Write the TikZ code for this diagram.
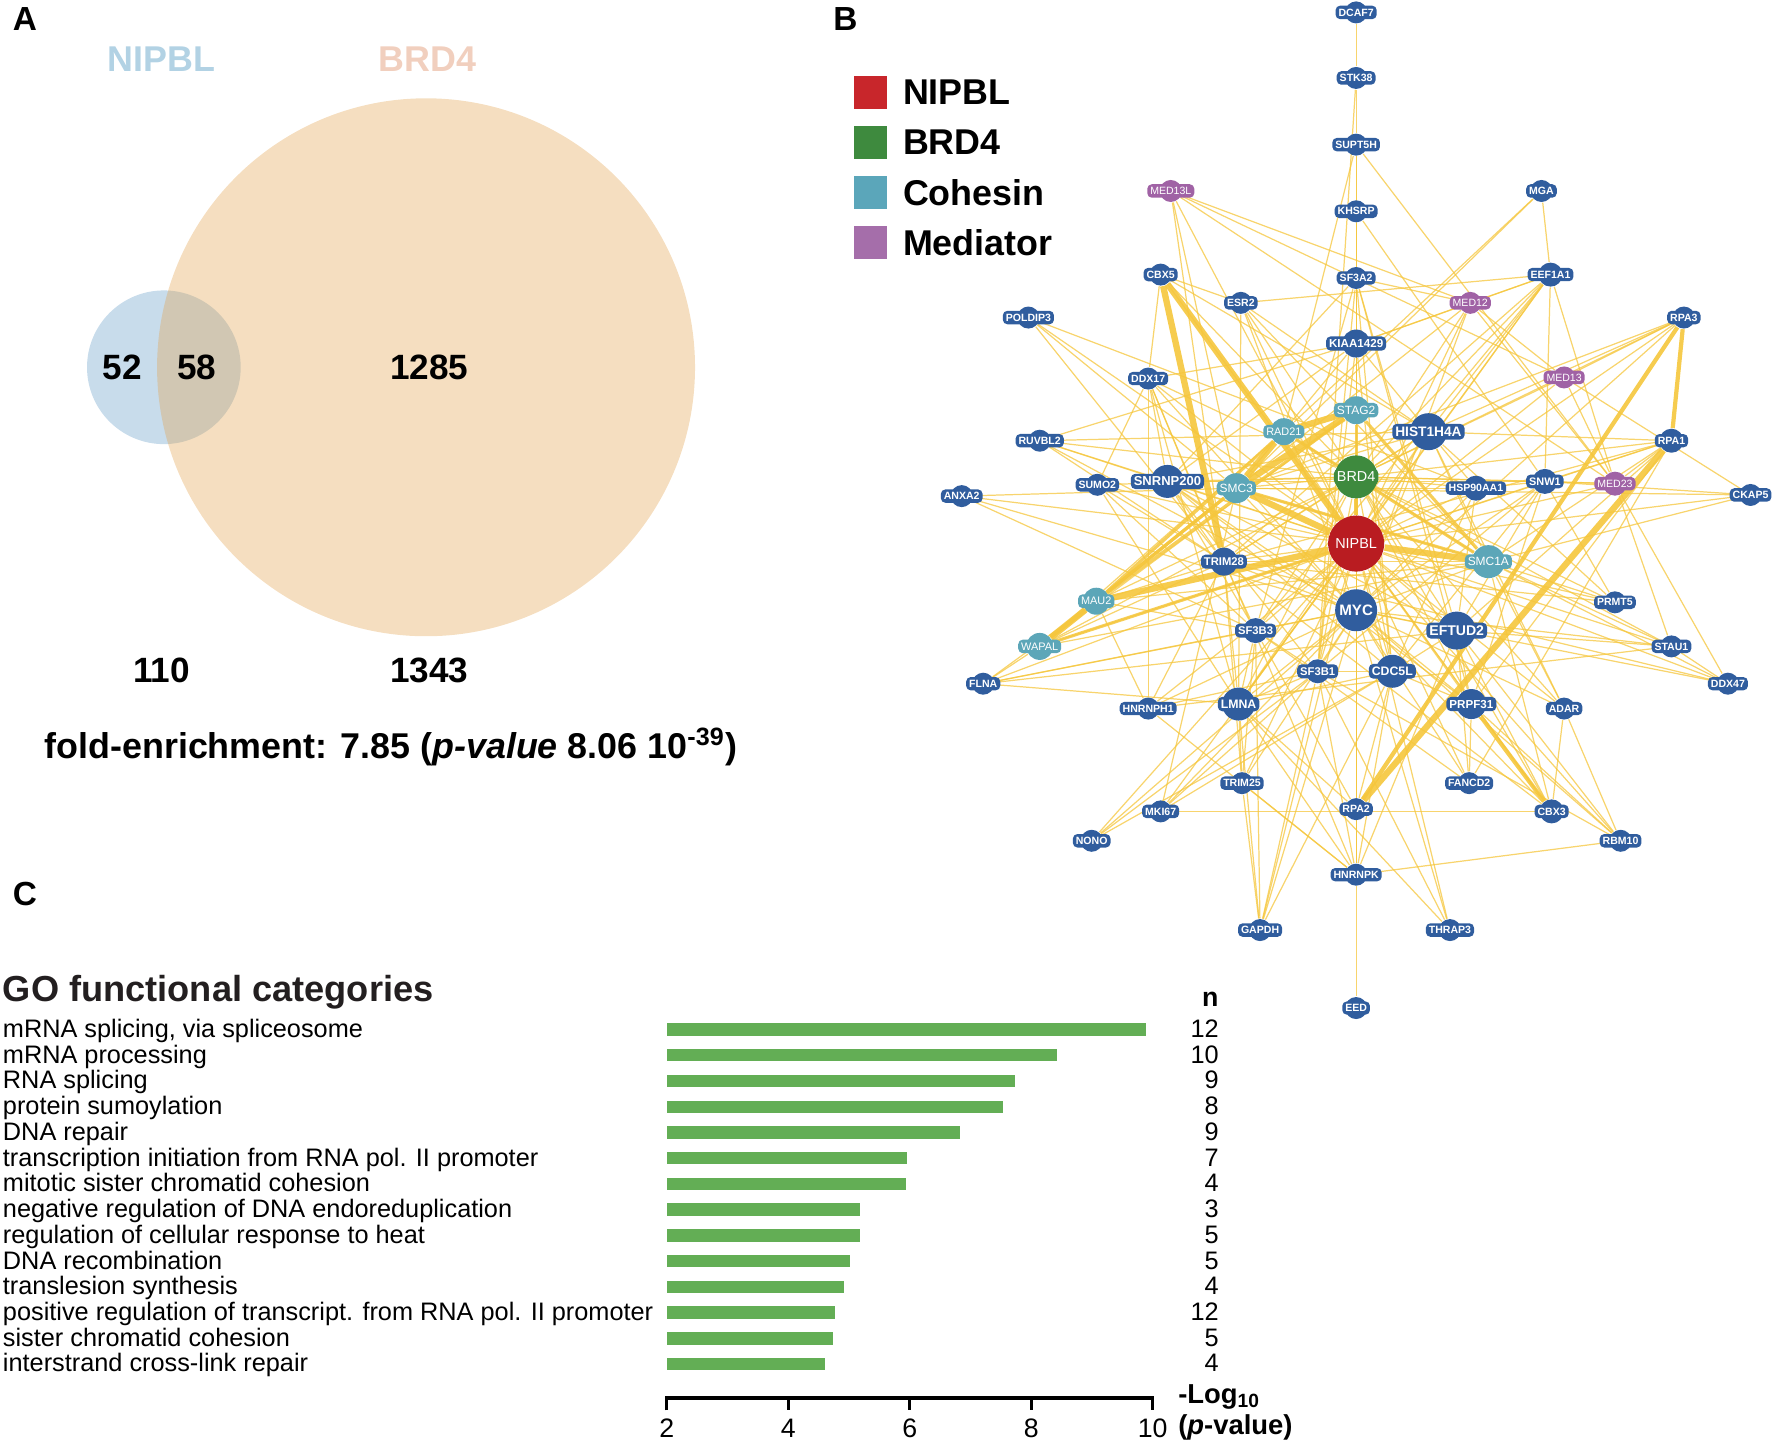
\documentclass[tikz,border=0pt]{standalone}
\usepackage{fontspec}
\setmainfont{Liberation Sans}
\usetikzlibrary{positioning,backgrounds}
\definecolor{protblue}{RGB}{48,93,158}
\definecolor{cohteal}{RGB}{92,166,184}
\definecolor{medpurple}{RGB}{160,98,165}
\definecolor{brdgreen}{RGB}{62,138,62}
\definecolor{nipred}{RGB}{185,28,33}
\definecolor{keyred}{RGB}{200,38,43}
\definecolor{keyteal}{RGB}{91,166,186}
\definecolor{keypurple}{RGB}{165,110,170}
\definecolor{linkyellow}{RGB}{245,198,60}
\definecolor{barGreen}{RGB}{99,174,85}
\definecolor{vennblue}{RGB}{200,220,235}
\definecolor{vennorange}{RGB}{226,161,75}
\definecolor{setblue}{RGB}{178,210,228}
\definecolor{setpink}{RGB}{241,207,190}
\definecolor{titlegrey}{RGB}{35,31,32}
\tikzset{prot/.style={circle,inner sep=0pt,minimum size=2.2mm},
	tag/.style={rounded corners=0.45mm,inner sep=0.3mm,text=white},
	link/.style={draw=linkyellow,line width=0.35pt,opacity=0.75},
	mid link/.style={draw=linkyellow,line width=0.9pt,opacity=0.85},
	heavy link/.style={draw=linkyellow,line width=1.8pt,opacity=0.9},
	key box/.style={minimum size=3.3mm,inner sep=0pt},
	key text/.style={font=\bfseries\fontsize{10.2}{12}\selectfont,inner sep=0pt},
	venn num/.style={font=\bfseries\fontsize{10}{12}\selectfont},
	go label/.style={anchor=base west,font=\fontsize{7.2}{8}\selectfont,inner sep=0pt},
	go count/.style={anchor=base east,font=\fontsize{7.2}{8}\selectfont,inner sep=0pt},
	go bar/.style={fill=barGreen,draw=none},
	panel/.style={font=\bfseries\fontsize{9.5}{11}\selectfont},
}
% \gene[weight]{name}{position}{circle size}{colour}{label size}
\newcommand{\gene}[6][\bfseries]{%
	\node[prot,fill=#5,minimum size=#4] (#2) at (#3) {};
	\node[tag,fill=#5,font=#1\fontsize{#6}{#6}\selectfont] (#2t) at (#2) {#2};
}

\begin{document}
\begin{tikzpicture}[x=0.11301mm,y=-0.11301mm]
	\useasboundingbox (0,0) rectangle (1568,1277);
	
	% panel letters
	\node[panel] (pA) at (22,17) {A};
	\node[panel] (pB) at (748,17) {B};
	\node[panel] (pC) at (22,791) {C};
	
	% A: venn diagram
	\fill[vennblue] (145,325) circle (68);
	\fill[vennorange,opacity=0.35] (377,325) circle (238);
	\node[font=\bfseries\fontsize{10.2}{12}\selectfont,text=setblue] (nipblset) at (143,52) {NIPBL};
	\node[font=\bfseries\fontsize{10.2}{12}\selectfont,text=setpink] (brdset) at (378,52) {BRD4};
	\node[venn num] (only1) at (108,325) {52};
	\node[venn num] (both) at (174,325) {58};
	\node[venn num] (only2) at (380,325) {1285};
	\node[venn num] (tot1) at (143,593) {110};
	\node[venn num] (tot2) at (380,593) {1343};
	\node[venn num,font=\bfseries\fontsize{10.2}{12}\selectfont] (fold) at (346,661)
		{fold-enrichment: 7.85 (\textit{p-value} 8.06 10\textsuperscript{-39})};
	
	% B: legend
	\node[key box,fill=keyred] (kNIPBL) at (770,82) {};
	\node[key box,fill=brdgreen] (kBRD4) [below=1.55mm of kNIPBL] {};
	\node[key box,fill=keyteal] (kCohesin) [below=1.55mm of kBRD4] {};
	\node[key box,fill=keypurple] (kMediator) [below=1.55mm of kCohesin] {};
	\node[key text] (tNIPBL) [right=1.5mm of kNIPBL] {NIPBL};
	\node[key text] (tBRD4) [right=1.5mm of kBRD4] {BRD4};
	\node[key text] (tCohesin) [right=1.5mm of kCohesin] {Cohesin};
	\node[key text] (tMediator) [right=1.5mm of kMediator] {Mediator};
	
	% B: proteins
	\gene{DCAF7}{1200,11}{2.2mm}{protblue}{3}
	\gene{STK38}{1200,69}{2.2mm}{protblue}{3}
	\gene{SUPT5H}{1200,128}{2.2mm}{protblue}{3}
	\gene{KHSRP}{1200,187}{2.2mm}{protblue}{3}
	\gene{SF3A2}{1200,246}{2.2mm}{protblue}{3}
	\gene{KIAA1429}{1200,304}{2.8mm}{protblue}{3.3}
	\gene[\mdseries]{STAG2}{1200,363}{2.8mm}{cohteal}{3.4}
	\gene[\mdseries]{BRD4}{1200,422}{4.3mm}{brdgreen}{4.1}
	\gene[\mdseries]{NIPBL}{1200,481}{5.6mm}{nipred}{4.1}
	\gene{MYC}{1200,540}{4.2mm}{protblue}{4.3}
	\gene{RPA2}{1200,716}{2.2mm}{protblue}{3}
	\gene{HNRNPK}{1200,774}{2.2mm}{protblue}{3}
	\gene{EED}{1200,892}{2.2mm}{protblue}{3}
	\gene[\mdseries]{MED13L}{1036,169}{2.2mm}{medpurple}{3}
	\gene{CBX5}{1027,243}{2.2mm}{protblue}{3}
	\gene{POLDIP3}{910,281}{2.2mm}{protblue}{3}
	\gene{DDX17}{1016,335}{2.2mm}{protblue}{3}
	\gene{RUVBL2}{920,390}{2.2mm}{protblue}{3}
	\gene{ANXA2}{851,439}{2.2mm}{protblue}{3}
	\gene{SUMO2}{971,429}{2.2mm}{protblue}{3}
	\gene{SNRNP200}{1033,426}{3.3mm}{protblue}{3.7}
	\gene[\mdseries]{SMC3}{1094,432}{3mm}{cohteal}{3.4}
	\gene[\mdseries]{RAD21}{1136,382}{2.7mm}{cohteal}{3.1}
	\gene{ESR2}{1098,268}{2.2mm}{protblue}{3}
	\gene[\mdseries]{MED12}{1301,268}{2.2mm}{medpurple}{3}
	\gene{MGA}{1364,169}{2.2mm}{protblue}{3}
	\gene{EEF1A1}{1372,243}{2.4mm}{protblue}{3}
	\gene{RPA3}{1490,281}{2.2mm}{protblue}{3}
	\gene[\mdseries]{MED13}{1384,334}{2.2mm}{medpurple}{3}
	\gene{RPA1}{1479,390}{2.4mm}{protblue}{3}
	\gene{CKAP5}{1549,438}{2.2mm}{protblue}{3}
	\gene[\mdseries]{MED23}{1429,428}{2.4mm}{medpurple}{3}
	\gene{SNW1}{1367,426}{2.5mm}{protblue}{3.1}
	\gene{HSP90AA1}{1306,432}{2.5mm}{protblue}{3}
	\gene{HIST1H4A}{1264,382}{3.7mm}{protblue}{3.9}
	\gene[\mdseries]{SMC1A}{1317,497}{3.3mm}{cohteal}{3.4}
	\gene{TRIM28}{1083,497}{2.8mm}{protblue}{3.2}
	\gene[\mdseries]{MAU2}{970,532}{2.7mm}{cohteal}{3.1}
	\gene[\mdseries]{WAPAL}{920,572}{2.7mm}{cohteal}{3.1}
	\gene{FLNA}{870,605}{2.2mm}{protblue}{3}
	\gene{SF3B3}{1111,558}{2.5mm}{protblue}{3.2}
	\gene{EFTUD2}{1289,558}{3.8mm}{protblue}{4}
	\gene{PRMT5}{1429,533}{2.2mm}{protblue}{3}
	\gene{STAU1}{1479,572}{2.2mm}{protblue}{3}
	\gene{DDX47}{1529,605}{2.2mm}{protblue}{3}
	\gene{SF3B1}{1166,594}{2.4mm}{protblue}{3.2}
	\gene{CDC5L}{1232,594}{3.3mm}{protblue}{3.5}
	\gene{HNRNPH1}{1016,627}{2.2mm}{protblue}{3}
	\gene{LMNA}{1096,623}{3.3mm}{protblue}{3.5}
	\gene{PRPF31}{1302,623}{3mm}{protblue}{3.3}
	\gene{ADAR}{1384,627}{2.2mm}{protblue}{3}
	\gene{TRIM25}{1099,693}{2.2mm}{protblue}{3}
	\gene{FANCD2}{1300,693}{2.2mm}{protblue}{3}
	\gene{MKI67}{1027,718}{2.2mm}{protblue}{3}
	\gene{CBX3}{1373,718}{2.4mm}{protblue}{3}
	\gene{NONO}{966,744}{2.2mm}{protblue}{3}
	\gene{RBM10}{1434,744}{2.2mm}{protblue}{3}
	\gene{GAPDH}{1115,823}{2.2mm}{protblue}{3}
	\gene{THRAP3}{1283,823}{2.2mm}{protblue}{3}
	
	\begin{scope}[on background layer]
		% hubs
		\path[link] (NIPBL) edge (MYC) edge (KIAA1429) edge (SF3A2) edge (KHSRP) edge (SUPT5H)
			edge (HIST1H4A) edge (HSP90AA1) edge (SNW1) edge (MED23) edge (MED12) edge (MED13)
			edge (MED13L) edge (ESR2) edge (DDX17) edge (SUMO2) edge (SNRNP200) edge (RUVBL2)
			edge (ANXA2) edge (POLDIP3) edge (EEF1A1) edge (RPA1) edge (RPA3) edge (CKAP5)
			edge (PRMT5) edge (STAU1) edge (DDX47) edge (ADAR) edge (CBX3) edge (RBM10)
			edge (FANCD2) edge (PRPF31) edge (EFTUD2) edge (CDC5L) edge (SF3B1) edge (SF3B3)
			edge (LMNA) edge (TRIM25) edge (HNRNPH1) edge (MKI67) edge (NONO) edge (FLNA)
			edge (GAPDH) edge (THRAP3) edge (RPA2) edge (HNRNPK) edge (TRIM28) edge (RAD21)
			edge (WAPAL) edge (STAG2);
		\path[link] (BRD4) edge (MYC) edge (KIAA1429) edge (SF3A2) edge (HIST1H4A) edge (SNRNP200)
			edge (EFTUD2) edge (CDC5L) edge (LMNA) edge (PRPF31) edge (TRIM28) edge (SMC3)
			edge (STAG2) edge (RAD21) edge (SMC1A) edge (CBX5) edge (CBX3) edge (RPA1) edge (RPA2)
			edge (RPA3) edge (MED12) edge (MED23) edge (SNW1) edge (HSP90AA1) edge (ESR2)
			edge (DDX17) edge (SF3B1) edge (SF3B3) edge (MAU2) edge (WAPAL) edge (PRMT5)
			edge (STAU1) edge (ADAR) edge (EEF1A1) edge (MED13) edge (RUVBL2) edge (SUMO2);
		\path[link] (MYC) edge (HIST1H4A) edge (HSP90AA1) edge (SNW1) edge (EFTUD2) edge (CDC5L)
			edge (SF3B1) edge (SF3B3) edge (LMNA) edge (PRPF31) edge (TRIM28) edge (SNRNP200)
			edge (RPA2) edge (HNRNPK) edge (GAPDH) edge (NONO) edge (MKI67) edge (FLNA)
			edge (ANXA2) edge (RUVBL2) edge (DDX17) edge (ESR2) edge (MED12) edge (RPA3)
			edge (STAU1) edge (ADAR) edge (CBX3) edge (TRIM25) edge (HNRNPH1) edge (SMC3)
			edge (SMC1A) edge (KIAA1429) edge (DDX47) edge (FANCD2) edge (RBM10) edge (THRAP3);
		
		% top column and outer ring
		\path[link]
			(DCAF7) edge (STK38)
			(STK38) edge (SUPT5H) edge (SF3B1)
			(SUPT5H) edge (KHSRP) edge (RAD21) edge (MED23)
			(KHSRP) edge (SF3A2) edge (SNW1)
			(SF3A2) edge (KIAA1429) edge (SF3B1) edge (SF3B3) edge (SNRNP200) edge (EFTUD2)
				edge (CDC5L) edge (PRPF31) edge (MED12)
			(KIAA1429) edge (HIST1H4A) edge (SNRNP200) edge (RUVBL2) edge (DDX17) edge (MED12)
				edge (EEF1A1) edge (STAG2) edge (SMC3) edge (CDC5L) edge (SF3B1)
			(MED13L) edge (MED12) edge (MED13) edge (MED23) edge (SMC3) edge (TRIM28)
			(CBX5) edge (DDX17) edge (HIST1H4A) edge (CBX3) edge (ESR2)
			(POLDIP3) edge (HSP90AA1) edge (SMC3) edge (TRIM28)
			(DDX17) edge (SUMO2) edge (SNRNP200) edge (LMNA) edge (HNRNPH1) edge (HNRNPK) edge (TRIM28)
			(RUVBL2) edge (SNRNP200) edge (TRIM28) edge (HIST1H4A)
			(ANXA2) edge (SMC3) edge (SF3B3)
			(SUMO2) edge (TRIM28) edge (LMNA) edge (SF3B3)
			(ESR2) edge (EEF1A1) edge (LMNA) edge (HIST1H4A) edge (SMC1A)
			(MED12) edge (MED13) edge (MED23) edge (SMC3) edge (EEF1A1)
			(MGA) edge (EEF1A1) edge (SMC3) edge (RAD21)
			(EEF1A1) edge (SNW1) edge (HIST1H4A) edge (TRIM28) edge (SF3B3) edge (MED23) edge (LMNA)
			(RPA3) edge (MED13) edge (SMC3) edge (HIST1H4A)
			(RPA1) edge (SNW1) edge (HIST1H4A) edge (MED23) edge (SMC1A) edge (FANCD2)
				edge (EFTUD2) edge (PRPF31) edge (TRIM28)
			(CKAP5) edge (MED13) edge (SNW1) edge (SMC1A) edge (SMC3)
			(MED23) edge (MED13) edge (SNW1)
			(HSP90AA1) edge (HIST1H4A) edge (SNW1) edge (SMC3) edge (CDC5L) edge (EFTUD2)
			(HIST1H4A) edge (SMC3) edge (TRIM28) edge (SMC1A) edge (PRMT5) edge (SNRNP200) edge (LMNA)
			(SNW1) edge (CDC5L) edge (EFTUD2) edge (SNRNP200) edge (PRPF31) edge (SF3B1)
			(SMC1A) edge (PRMT5) edge (STAU1) edge (DDX47) edge (CBX3) edge (TRIM28) edge (WAPAL) edge (SMC3)
			(PRMT5) edge (SNW1) edge (TRIM28)
			(STAU1) edge (DDX47) edge (MED23) edge (HNRNPH1) edge (EFTUD2)
			(DDX47) edge (TRIM28) edge (MED23)
			(ADAR) edge (CBX3) edge (RBM10) edge (SMC1A) edge (HIST1H4A)
			(CBX3) edge (MKI67) edge (TRIM28) edge (EFTUD2)
			(RBM10) edge (HNRNPK) edge (PRPF31) edge (SF3B1) edge (EFTUD2)
			(FANCD2) edge (PRPF31) edge (EFTUD2) edge (SF3B3)
			(THRAP3) edge (SF3B1) edge (LMNA)
			(GAPDH) edge (LMNA) edge (TRIM25) edge (SF3B1) edge (CDC5L) edge (SF3B3)
			(HNRNPK) edge (EED) edge (RPA2) edge (HNRNPH1) edge (TRIM25) edge (LMNA) edge (CDC5L)
				edge (SF3B1) edge (EFTUD2)
			(RPA2) edge (LMNA) edge (SF3B3) edge (CDC5L)
			(TRIM25) edge (LMNA) edge (SF3B3) edge (TRIM28)
			(MKI67) edge (SMC3) edge (SF3B1) edge (CDC5L)
			(NONO) edge (SF3B1) edge (CDC5L)
			(HNRNPH1) edge (MAU2) edge (TRIM28) edge (SF3B1)
			(FLNA) edge (WAPAL) edge (SF3B3) edge (LMNA) edge (MAU2) edge (EFTUD2)
			(WAPAL) edge (STAG2) edge (RAD21) edge (TRIM28)
			(MAU2) edge (TRIM28) edge (SF3B3) edge (SMC1A)
			(SNRNP200) edge (EFTUD2) edge (PRPF31) edge (CDC5L) edge (SF3B1) edge (SF3B3) edge (TRIM28)
			(EFTUD2) edge (PRPF31) edge (CDC5L)
			(SF3B1) edge (SF3B3) edge (CDC5L)
			(LMNA) edge (SF3B3) edge (TRIM28) edge (SF3B1) edge (CDC5L)
			(PRPF31) edge (CDC5L)
			(SF3B3) edge (TRIM28);
		
		% heavier links
		\path[mid link]
			(NIPBL) edge (STAG2) edge (WAPAL)
			(SMC3) edge (SMC1A)
			(MAU2) edge (SMC3) edge (RAD21) edge (STAG2)
			(WAPAL) edge (SMC3)
			(STAG2) edge (SMC1A)
			(RAD21) edge (SMC1A);
		\path[heavy link]
			(SMC3) edge (NIPBL) edge (STAG2) edge (RAD21)
			(RAD21) edge (STAG2)
			(MAU2) edge (NIPBL) edge (WAPAL)
			(SMC1A) edge (NIPBL)
			(CBX5) edge (TRIM28) edge (NIPBL)
			(RPA1) edge (RPA2);
		\path[heavy link,line width=1.2pt]
			(RPA3) edge (RPA1) edge (RPA2)
			(PRPF31) edge (CBX3)
			(BRD4) edge (NIPBL);
	\end{scope}
	
	% C: GO categories
	\node[anchor=west,inner sep=0pt,text=titlegrey,font=\bfseries\fontsize{10.3}{12}\selectfont] (gotitle) at (2,878) {GO functional categories};
	\node[font=\bfseries\fontsize{7.6}{9}\selectfont] (ncol) at (1071,884) {n};
	\foreach \lab/\val/\cnt [count=\i] in {
		{mRNA splicing, via spliceosome}/9.89/12,
		{mRNA processing}/8.42/10,
		{RNA splicing}/7.73/9,
		{protein sumoylation}/7.54/8,
		{DNA repair}/6.82/9,
		{transcription initiation from RNA pol. II promoter}/5.96/7,
		{mitotic sister chromatid cohesion}/5.94/4,
		{negative regulation of DNA endoreduplication}/5.18/3,
		{regulation of cellular response to heat}/5.18/5,
		{DNA recombination}/5.01/5,
		{translesion synthesis}/4.92/4,
		{positive regulation of transcript. from RNA pol. II promoter}/4.77/12,
		{sister chromatid cohesion}/4.73/5,
		{interstrand cross-link repair}/4.60/4}
	{
		\pgfmathsetmacro{\rowy}{911+(\i-1)*22.77}
		\node[go label] (go\i) at (2,\rowy+7) {\lab};
		\fill[go bar] (590,\rowy-5.5) rectangle ({590+(\val-2)*53.75},\rowy+5.5);
		\node[go count] (cnt\i) at (1079,\rowy+7) {\cnt};
	}
	
	% axis
	\draw[line width=0.9pt] (590,1248) -- (590,1237) -- (1020,1237) -- (1020,1248);
	\foreach \t in {2,4,...,10}{
		\draw[line width=0.9pt] ({590+(\t-2)*53.75},1237) -- ({590+(\t-2)*53.75},1248);
		\node[font=\fontsize{7.6}{9}\selectfont] (tick\t) at ({590+(\t-2)*53.75},1264) {\t};
	}
	\node[anchor=west,inner sep=0pt,font=\bfseries\fontsize{7.8}{9}\selectfont] (ylab1) at (1042,1236) {-Log\textsubscript{10}};
	\node[anchor=west,inner sep=0pt,font=\bfseries\fontsize{7.8}{9}\selectfont] (ylab2) at (1042,1263) {(\textit{p}-value)};
\end{tikzpicture}
\end{document}
